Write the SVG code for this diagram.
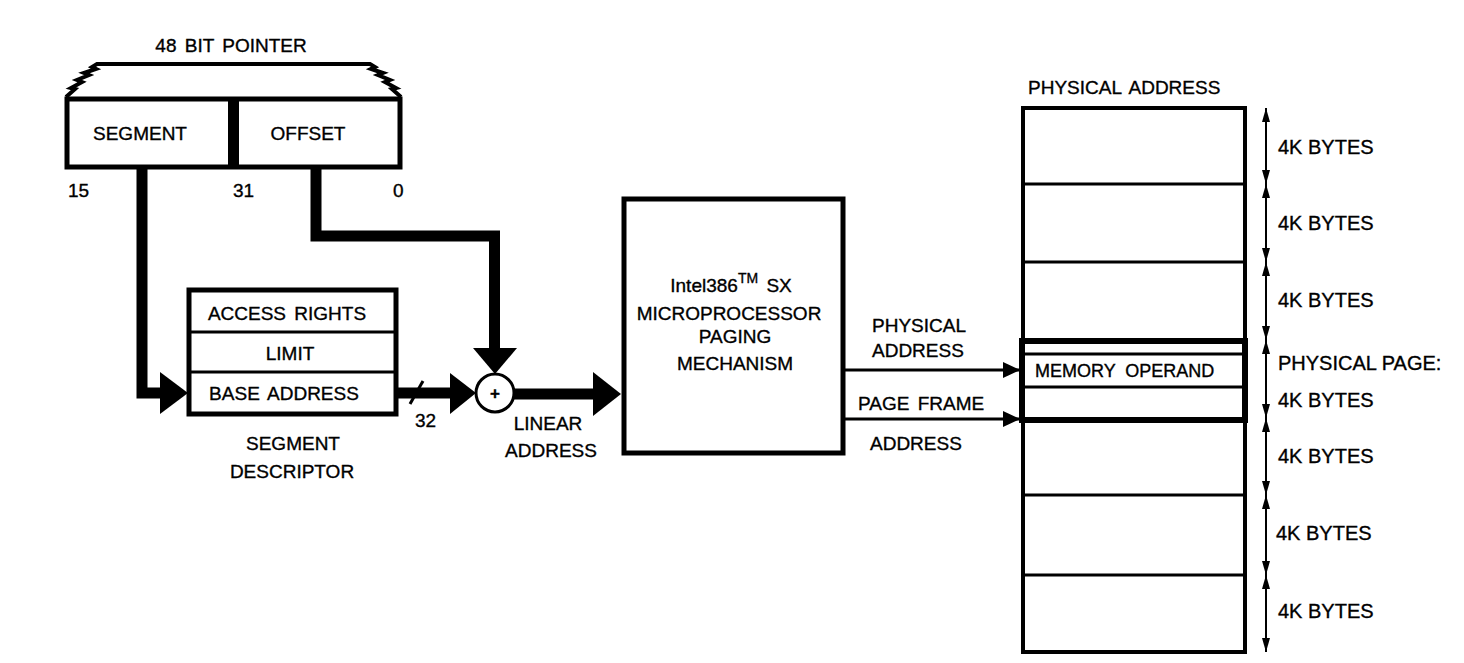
<svg xmlns="http://www.w3.org/2000/svg" width="1464" height="663" viewBox="0 0 1464 663">
<style>
text{font-family:"Liberation Sans",Arial,sans-serif;font-size:19px;fill:#000;stroke:#000;stroke-width:0.35;word-spacing:3px}
.m{text-anchor:middle}
.k{font-size:20px;word-spacing:0}
.box{fill:#fff;stroke:#000;stroke-width:5}
.thin{stroke:#000;stroke-width:3;fill:none}
.brace{stroke:#000;stroke-width:4;fill:none;stroke-linejoin:miter}
.bus{stroke:#000;stroke-width:11;fill:none;stroke-linejoin:miter;stroke-linecap:butt}
.ah{fill:#000}
.dim{stroke:#000;stroke-width:2;fill:none}
</style>
<defs>
<marker id="dh" viewBox="0 0 14 8" refX="14" refY="4" markerWidth="14" markerHeight="8" markerUnits="userSpaceOnUse" orient="auto-start-reverse">
<path d="M0,0 L14,4 L0,8 Z" fill="#000"/>
</marker>
<marker id="ta" viewBox="0 0 17 16" refX="17" refY="8" markerWidth="17" markerHeight="16" markerUnits="userSpaceOnUse" orient="auto">
<path d="M0,0 L17,8 L0,16 Z" fill="#000"/>
</marker>
</defs>

<g id="pointer">
<text class="m" x="231" y="52">48 BIT POINTER</text>
<path class="brace" d="M107,64 H360"/>
<path class="brace" d="M107,64 L97,64 L92,67 L96,69 L84,73 L89,75 L77,80 L82,82 L71,88 L75,89 L66,97"/>
<path class="brace" d="M360,64 L370,64 L375,67 L371,69 L383,73 L378,75 L390,80 L385,82 L396,88 L392,89 L401,97"/>
<rect class="box" x="67" y="99" width="333" height="68"/>
<rect x="228" y="99" width="11" height="68" fill="#000"/>
<text class="m" x="140" y="140">SEGMENT</text>
<text class="m" x="308" y="140">OFFSET</text>
<text x="68" y="197">15</text>
<text x="233" y="197">31</text>
<text x="393" y="197">0</text>
</g>

<g id="descriptor">
<rect class="box" x="189" y="290" width="207" height="124"/>
<line class="thin" x1="189" y1="332" x2="396" y2="332"/>
<line class="thin" x1="189" y1="372" x2="396" y2="372"/>
<text class="m" x="287" y="320">ACCESS RIGHTS</text>
<text class="m" x="290" y="360">LIMIT</text>
<text class="m" x="284" y="400">BASE ADDRESS</text>
<text class="m" x="293" y="450">SEGMENT</text>
<text class="m" x="292" y="478">DESCRIPTOR</text>
</g>

<g id="adder">
<circle cx="495" cy="393" r="19" fill="#fff" stroke="#000" stroke-width="3"/>
<text class="m" x="495" y="399" style="font-size:17px;font-weight:bold">+</text>
</g>

<g id="paging">
<rect class="box" x="624" y="199" width="219" height="254"/>
<text class="m" x="731" y="292">Intel386<tspan dy="-9" style="font-size:14px">TM</tspan><tspan dy="9"> SX</tspan></text>
<text class="m" x="729" y="320">MICROPROCESSOR</text>
<text class="m" x="735" y="343">PAGING</text>
<text class="m" x="735" y="370">MECHANISM</text>
</g>

<g id="memory">
<text x="1028" y="94">PHYSICAL ADDRESS</text>
<rect x="1023" y="108" width="222" height="544" fill="#fff" stroke="#000" stroke-width="4"/>
<line class="thin" x1="1023" y1="184" x2="1247" y2="184"/>
<line class="thin" x1="1023" y1="262" x2="1247" y2="262"/>
<line class="thin" x1="1023" y1="495" x2="1245" y2="495"/>
<line class="thin" x1="1023" y1="575" x2="1245" y2="575"/>
<rect x="1022" y="341" width="223" height="79" fill="none" stroke="#000" stroke-width="6"/>
<line class="thin" x1="1024" y1="354" x2="1243" y2="354"/>
<line class="thin" x1="1024" y1="387" x2="1243" y2="387"/>
<text x="1035" y="377" style="font-size:18px;word-spacing:5px">MEMORY OPERAND</text>
</g>

<g id="dimensions">
<line class="dim" x1="1266" y1="108" x2="1266" y2="184" marker-start="url(#dh)" marker-end="url(#dh)"/>
<line class="dim" x1="1266" y1="184" x2="1266" y2="262" marker-start="url(#dh)" marker-end="url(#dh)"/>
<line class="dim" x1="1266" y1="262" x2="1266" y2="340" marker-start="url(#dh)" marker-end="url(#dh)"/>
<line class="dim" x1="1266" y1="340" x2="1266" y2="418" marker-start="url(#dh)" marker-end="url(#dh)"/>
<line class="dim" x1="1266" y1="418" x2="1266" y2="495" marker-start="url(#dh)" marker-end="url(#dh)"/>
<line class="dim" x1="1266" y1="495" x2="1266" y2="575" marker-start="url(#dh)" marker-end="url(#dh)"/>
<line class="dim" x1="1266" y1="575" x2="1266" y2="652" marker-start="url(#dh)" marker-end="url(#dh)"/>
<text class="k" x="1278" y="154">4K BYTES</text>
<text class="k" x="1278" y="230">4K BYTES</text>
<text class="k" x="1278" y="307">4K BYTES</text>
<text class="k" x="1278" y="370">PHYSICAL PAGE:</text>
<text class="k" x="1278" y="407">4K BYTES</text>
<text class="k" x="1278" y="463">4K BYTES</text>
<text class="k" x="1276" y="540">4K BYTES</text>
<text class="k" x="1278" y="618">4K BYTES</text>
</g>

<g id="connectors">
<path class="bus" d="M142,167 V393 H161"/>
<path class="ah" d="M160,372 L188,393 L160,414 Z"/>
<path class="bus" d="M316,167 V236 H494.5 V349"/>
<path class="ah" d="M473,348 L517,348 L495,374 Z"/>
<path class="bus" d="M396,393 H451"/>
<path class="ah" d="M450,373 L476,393 L450,414 Z"/>
<line class="thin" x1="410" y1="404" x2="423" y2="381"/>
<text x="415" y="427">32</text>
<path class="bus" d="M514,394 H594"/>
<path class="ah" d="M593,372 L621,394 L593,416 Z"/>
<text class="m" x="548" y="430">LINEAR</text>
<text class="m" x="551" y="457">ADDRESS</text>
<line class="thin" x1="843" y1="370" x2="1020" y2="370" marker-end="url(#ta)"/>
<line class="thin" x1="843" y1="419" x2="1020" y2="419" marker-end="url(#ta)"/>
<text x="872" y="332">PHYSICAL</text>
<text x="872" y="357">ADDRESS</text>
<text x="858" y="410">PAGE FRAME</text>
<text x="870" y="450">ADDRESS</text>
</g>
</svg>
